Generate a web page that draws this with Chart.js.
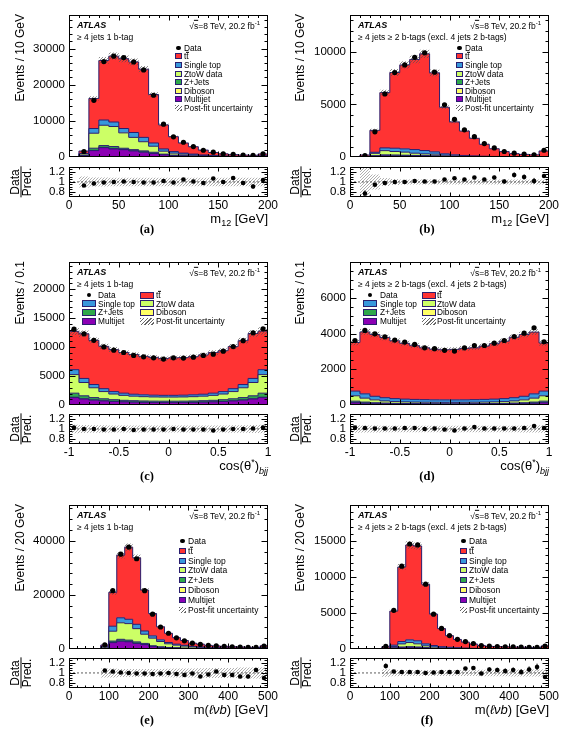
<!DOCTYPE html>
<html><head><meta charset="utf-8">
<script src="https://cdn.jsdelivr.net/npm/chart.js@4/dist/chart.umd.min.js"></script>
<style>
body{margin:0;background:#fff;width:567px;height:737px;position:relative;overflow:hidden;font-family:"Liberation Sans",Arial,Helvetica,sans-serif;}
canvas{position:absolute;}
.t{position:absolute;white-space:nowrap;color:#000;line-height:1;}
.box{position:absolute;box-sizing:border-box;}
.tb{display:inline-block;border-top:1px solid #000;line-height:0.85;}
</style></head><body>
<script>
// ---------------- DATA ----------------
// (a) m12, >=4 jets 1 b-tag
const A_edges = [0,10,20,30,40,50,60,70,80,90,100,110,120,130,140,150,160,170,180,190,200];
const A_data = [null,1550,15700,26400,27900,27500,26300,24100,17100,9100,5600,4100,2900,1900,1360,900,730,550,450,900];
const A_ttbar = [0,670,8300,16450,18200,19300,19500,18850,13400,6640,4120,2795,2035,1345,847,584,430,369,342,497];
const A_singleTop = [0,150,1300,1450,1250,1200,1350,1200,900,630,440,300,230,170,120,90,70,55,45,100];
const A_ztow = [0,450,4140,5620,5540,4250,3390,2530,1660,810,550,400,300,200,140,100,80,60,50,120];
const A_zjets = [0,80,600,500,580,330,300,320,320,160,80,60,45,35,25,20,15,12,10,25];
const A_diboson = [0,20,60,80,80,70,60,50,40,30,20,15,10,10,8,6,5,4,3,8];
const A_multijet = [0,300,1800,2600,2250,2050,1700,1350,980,630,440,330,250,180,130,100,80,60,50,120];
const A_mainUnc = [0,0.06,0.04,0.035,0.035,0.035,0.035,0.035,0.035,0.04,0.04,0.04,0.04,0.045,0.045,0.05,0.05,0.05,0.05,0.05];
const A_ratio = [null,0.93,0.97,0.99,1.0,1.01,1.0,0.99,0.99,1.02,0.99,1.05,1.01,0.98,1.07,1.0,1.08,0.98,0.91,1.04];
const A_ratioErr = [null,0.02,0.01,0.01,0.01,0.01,0.01,0.01,0.01,0.01,0.015,0.015,0.02,0.02,0.025,0.03,0.035,0.04,0.045,0.03];
const A_ratioUnc = [null,0.11,0.09,0.09,0.085,0.085,0.085,0.085,0.085,0.085,0.085,0.085,0.085,0.085,0.085,0.085,0.085,0.085,0.085,0.085];
const A_xTicks = [0,50,100,150,200];
const A_yTicks = [0,10000,20000,30000];

// (b) m12, >=4 jets >=2 b-tags
const B_edges = [0,10,20,30,40,50,60,70,80,90,100,110,120,130,140,150,160,170,180,190,200];
const B_data = [null,150,2400,6000,8030,8750,9470,9900,8060,4970,3590,2590,1940,1280,875,530,375,280,220,650];
const B_ttbar = [0,150,2080,5250,7190,7970,8555,9180,7500,4420,3130,2320,1670,1130,735,480,295,230,195,525];
const B_singleTop = [0,8,100,260,310,310,345,320,220,130,90,65,45,35,25,18,14,11,9,25];
const B_ztow = [0,15,230,400,330,290,210,160,150,90,60,45,35,25,18,12,9,7,6,14];
const B_zjets = [0,5,40,80,80,70,60,55,50,35,25,18,13,9,6,4,3,2,2,5];
const B_diboson = [0,2,8,12,12,11,10,9,8,6,4,3,2,2,1,1,1,1,1,2];
const B_multijet = [0,20,80,120,110,100,90,80,70,50,35,25,20,15,10,8,6,5,4,10];
const B_mainUnc = [0,0.3,0.06,0.045,0.04,0.04,0.04,0.04,0.04,0.04,0.04,0.04,0.04,0.045,0.045,0.05,0.05,0.05,0.05,0.05];
const B_ratio = [null,0.77,0.944,0.98,1.0,1.0,1.02,1.01,1.01,1.05,1.075,1.05,1.09,1.05,1.09,1.01,1.14,1.1,1.02,1.12];
const B_ratioErr = [null,0.06,0.02,0.012,0.01,0.01,0.01,0.01,0.01,0.015,0.018,0.02,0.025,0.03,0.035,0.04,0.05,0.05,0.06,0.04];
const B_ratioUnc = [null,0.5,0.15,0.08,0.06,0.05,0.05,0.05,0.05,0.05,0.05,0.05,0.05,0.05,0.05,0.05,0.05,0.05,0.05,0.05];
const B_xTicks = [0,50,100,150,200];
const B_yTicks = [0,5000,10000];

// (c) cos(theta*)_bjj, >=4 jets 1 b-tag
const C_edges = [-1,-0.9,-0.8,-0.7,-0.6,-0.5,-0.4,-0.3,-0.2,-0.1,0,0.1,0.2,0.3,0.4,0.5,0.6,0.7,0.8,0.9,1];
const C_data = [13100,12300,11170,10030,9470,9070,8560,8330,8160,7940,8160,8110,8270,8560,8790,9300,10090,11110,12470,13150];
const C_ttbar = [6610,7700,7620,7295,7240,7010,6855,6635,6525,6335,6475,6475,6575,6775,7000,7060,7255,7560,7750,6660];
const C_singleTop = [850,700,560,500,420,380,340,320,310,300,300,310,320,340,380,420,500,560,700,850];
const C_ztow = [3200,2300,1700,1250,980,850,780,740,720,710,710,720,740,780,850,980,1250,1700,2300,3200];
const C_zjets = [700,500,400,330,280,250,230,220,210,210,210,210,220,230,250,280,330,400,500,700];
const C_diboson = [60,50,40,35,30,28,26,25,24,24,24,24,25,26,28,30,35,40,50,60];
const C_multijet = [1300,1050,850,720,620,550,500,470,450,440,440,450,470,500,550,620,720,850,1050,1300];
const C_mainUnc = [0.05,0.045,0.045,0.045,0.045,0.045,0.045,0.045,0.045,0.045,0.045,0.045,0.045,0.045,0.045,0.045,0.045,0.045,0.045,0.05];
const C_ratio = [1.03,1.0,1.0,0.99,0.99,1.0,0.98,0.99,0.99,0.99,1.0,0.99,0.99,0.99,0.97,0.99,1.0,1.0,1.01,1.03];
const C_ratioErr = [0.012,0.012,0.012,0.012,0.012,0.012,0.012,0.012,0.012,0.012,0.012,0.012,0.012,0.012,0.012,0.012,0.012,0.012,0.012,0.012];
const C_ratioUnc = [0.085,0.08,0.075,0.075,0.07,0.07,0.07,0.07,0.07,0.07,0.07,0.07,0.07,0.07,0.07,0.07,0.075,0.075,0.08,0.085];
const C_xTicks = [-1,-0.5,0,0.5,1];
const C_yTicks = [0,5000,10000,15000,20000];

// (d) cos(theta*)_bjj, >=4 jets >=2 b-tags
const D_edges = [-1,-0.9,-0.8,-0.7,-0.6,-0.5,-0.4,-0.3,-0.2,-0.1,0,0.1,0.2,0.3,0.4,0.5,0.6,0.7,0.8,0.9,1];
const D_data = [3610,4170,3980,3815,3630,3520,3390,3200,3150,3060,3020,3200,3330,3330,3460,3610,3830,4020,4320,3540];
const D_ttbar = [2720,3460,3450,3365,3230,3115,3000,2895,2825,2800,2820,2875,2895,2980,3095,3210,3375,3450,3450,2690];
const D_singleTop = [260,240,200,180,165,155,150,145,140,140,140,140,145,150,155,165,180,200,240,260];
const D_ztow = [300,220,160,120,100,90,85,80,78,76,76,78,80,85,90,100,120,160,220,300];
const D_zjets = [80,60,45,38,32,30,28,27,26,26,26,26,27,28,30,32,38,45,60,80];
const D_diboson = [10,8,7,6,5,5,5,5,5,5,5,5,5,5,5,5,6,7,8,10];
const D_multijet = [130,100,80,70,60,55,50,48,46,45,45,46,48,50,55,60,70,80,100,130];
const D_mainUnc = [0.045,0.04,0.04,0.04,0.04,0.04,0.04,0.04,0.04,0.04,0.04,0.04,0.04,0.04,0.04,0.04,0.04,0.04,0.04,0.045];
const D_ratio = [1.03,1.02,1.01,1.01,1.01,1.02,1.02,1.0,1.01,0.99,0.97,1.01,1.04,1.01,1.01,1.01,1.01,1.02,1.06,1.02];
const D_ratioErr = [0.018,0.017,0.017,0.017,0.018,0.018,0.018,0.018,0.018,0.018,0.018,0.018,0.018,0.018,0.018,0.018,0.017,0.017,0.017,0.018];
const D_ratioUnc = [0.075,0.07,0.07,0.065,0.065,0.065,0.065,0.065,0.065,0.065,0.065,0.065,0.065,0.065,0.065,0.065,0.065,0.07,0.07,0.075];
const D_xTicks = [-1,-0.5,0,0.5,1];
const D_yTicks = [0,2000,4000,6000];

// (e) m(lvb), >=4 jets 1 b-tag
const E_edges = [0,20,40,60,80,100,120,140,160,180,200,220,240,260,280,300,320,340,360,380,400,420,440,460,480,500];
const E_data = [null,null,null,null,1590,21600,35100,37700,33400,21600,12900,8170,5850,4150,3050,2200,1710,1340,1220,980,850,730,610,620,1100];
const E_ttbar = [0,0,0,0,465,12510,23180,26680,24580,15120,8270,4840,3405,2400,1780,1218,1025,757,650,572,497,446,371,333,672];
const E_singleTop = [0,0,0,0,150,1850,1850,1600,1600,1200,850,610,490,370,290,220,180,140,120,100,85,75,65,55,120];
const E_ztow = [0,0,0,0,500,3650,6100,6100,4900,3400,2800,1950,1350,1000,750,520,420,320,270,230,200,175,145,130,280];
const E_zjets = [0,0,0,0,80,500,650,550,500,400,300,220,160,120,95,70,55,45,38,32,28,24,20,18,40];
const E_diboson = [0,0,0,0,15,60,70,70,60,50,40,30,25,20,15,12,10,8,7,6,5,5,4,4,8];
const E_multijet = [0,0,0,0,300,2400,2900,2700,2100,1650,900,600,420,320,250,180,150,110,95,80,70,60,50,45,100];
const E_mainUnc = [0,0,0,0,0.06,0.04,0.035,0.035,0.035,0.035,0.04,0.04,0.04,0.045,0.045,0.05,0.05,0.05,0.05,0.05,0.05,0.055,0.055,0.055,0.055];
const E_ratio = [null,null,null,null,1.05,1.03,1.01,1.0,0.99,0.99,0.98,0.99,1.0,0.98,0.96,0.99,0.93,0.97,1.03,0.96,0.96,0.93,0.93,1.06,0.9];
const E_ratioErr = [null,null,null,null,0.02,0.01,0.01,0.01,0.01,0.01,0.01,0.012,0.015,0.017,0.02,0.022,0.025,0.028,0.03,0.032,0.035,0.038,0.04,0.042,0.035];
const E_ratioUnc = [null,null,null,null,0.09,0.09,0.08,0.08,0.08,0.08,0.08,0.08,0.085,0.09,0.09,0.09,0.095,0.1,0.1,0.1,0.1,0.11,0.11,0.11,0.11];
const E_xTicks = [0,100,200,300,400,500];
const E_yTicks = [0,20000,40000];

// (f) m(lvb), >=4 jets >=2 b-tags
const F_edges = [0,20,40,60,80,100,120,140,160,180,200,220,240,260,280,300,320,340,360,380,400,420,440,460,480,500];
const F_data = [null,null,null,null,370,5380,11500,14580,14450,9000,4850,2870,1880,1350,1040,780,500,400,360,320,300,270,250,240,400];
const F_ttbar = [0,0,0,0,208,4722,10338,13158,13148,8272,4354,2503,1607,1147,824,602,420,313,287,264,245,226,200,183,373];
const F_singleTop = [0,0,0,0,30,180,330,370,420,270,200,140,110,85,65,50,38,30,26,23,20,18,16,14,30];
const F_ztow = [0,0,0,0,40,190,430,580,440,260,170,110,80,60,45,35,26,20,17,15,13,11,10,9,20];
const F_zjets = [0,0,0,0,10,50,80,90,80,60,40,28,20,15,12,9,7,6,5,4,4,3,3,3,6];
const F_diboson = [0,0,0,0,2,8,12,12,12,8,6,4,3,3,2,2,1,1,1,1,1,1,1,1,1];
const F_multijet = [0,0,0,0,40,120,200,230,200,130,80,55,40,30,22,17,13,10,9,8,7,6,5,5,10];
const F_mainUnc = [0,0,0,0,0.06,0.04,0.035,0.035,0.035,0.035,0.035,0.04,0.04,0.04,0.045,0.045,0.05,0.05,0.05,0.05,0.05,0.05,0.05,0.05,0.05];
const F_ratio = [null,null,null,null,1.14,1.03,1.02,1.02,1.02,1.0,1.01,1.02,1.02,1.02,1.09,1.1,0.99,1.07,1.06,1.04,1.06,1.02,1.07,1.12,0.92];
const F_ratioErr = [null,null,null,null,0.05,0.012,0.01,0.01,0.01,0.01,0.012,0.015,0.02,0.022,0.025,0.03,0.035,0.04,0.045,0.05,0.05,0.055,0.06,0.065,0.04];
const F_ratioUnc = [null,null,null,null,0.075,0.065,0.06,0.06,0.06,0.06,0.06,0.06,0.06,0.06,0.06,0.06,0.065,0.065,0.065,0.065,0.07,0.07,0.07,0.07,0.07];
const F_xTicks = [0,100,200,300,400,500];
const F_yTicks = [0,5000,10000,15000];

const RATIO_TICKS = [0.8,1,1.2];
const SAMPLE_LABELS = ['Multijet','Diboson','Z+Jets','ZtoW data','Single top','t<span class="tb">t</span>'];

// ---------------- STYLE ----------------
const FONT = '"Liberation Sans", Arial, Helvetica, sans-serif';
const OUTLINE = '#2a1e6e';
const COLORS = ['#8c00b4','#ffff66','#2fa84a','#ccff66','#3898dc','#ff3333'];
Chart.defaults.font.family = FONT;
Chart.defaults.color = '#000';

function hatchPattern(color){
  const c = document.createElement('canvas'); c.width = 3; c.height = 3;
  const g = c.getContext('2d'); g.strokeStyle = color; g.lineWidth = 0.8;
  g.beginPath(); g.moveTo(0,3); g.lineTo(3,0); g.moveTo(-1,1); g.lineTo(1,-1); g.moveTo(2,4); g.lineTo(4,2); g.stroke();
  return g.createPattern(c,'repeat');
}
const HATCH_MAIN = hatchPattern('rgba(80,80,80,0.8)');
const HATCH_RATIO = hatchPattern('rgba(120,120,120,0.75)');

function minorList(min,max,step){
  const out=[]; const s=Math.ceil(min/step-1e-9);
  for(let k=s;k*step<=max+1e-9;k++) out.push(+(k*step).toFixed(6));
  return out;
}
const framePlugin = {
  id:'frameTicks',
  afterDraw(chart,args,o){
    const {ctx, chartArea:a} = chart; const xs=chart.scales.x, ys=chart.scales.y;
    ctx.save(); ctx.strokeStyle='#000'; ctx.lineWidth=1;
    const L=Math.round(a.left)+0.5, R=Math.round(a.right)-0.5, T=Math.round(a.top)+0.5, B=Math.round(a.bottom)-0.5;
    if (o.err){
      ctx.beginPath();
      o.err.forEach(e=>{ const px=xs.getPixelForValue(e.x); ctx.moveTo(px, ys.getPixelForValue(e.y-e.e)); ctx.lineTo(px, ys.getPixelForValue(e.y+e.e)); });
      ctx.stroke();
    }
    ctx.beginPath();
    const xv=(v,len)=>{const px=Math.round(xs.getPixelForValue(v))+0.5; if(px<L-0.1||px>R+0.6)return; ctx.moveTo(px,B);ctx.lineTo(px,B-len);ctx.moveTo(px,T);ctx.lineTo(px,T+len);};
    const yv=(v,len)=>{const py=Math.round(ys.getPixelForValue(v))+0.5; if(py<T-0.6||py>B+0.6)return; ctx.moveTo(L,py);ctx.lineTo(L+len,py);ctx.moveTo(R,py);ctx.lineTo(R-len,py);};
    minorList(xs.min,xs.max,o.xMinor).forEach(v=>xv(v,o.xMinLen));
    o.xMajor.forEach(v=>xv(v,o.xMajLen));
    minorList(ys.min,ys.max,o.yMinor).forEach(v=>yv(v,o.yMinLen));
    o.yMajor.forEach(v=>yv(v,o.yMajLen));
    ctx.stroke();
    ctx.strokeRect(L,T,R-L,B-T);
    ctx.restore();
  }
};

function mkCanvas(left,top,w,h){
  const c=document.createElement('canvas'); c.width=w; c.height=h;
  c.style.left=left+'px'; c.style.top=top+'px'; c.style.width=w+'px'; c.style.height=h+'px';
  document.body.appendChild(c); return c;
}
function stepPts(edges,vals){
  const pts=vals.map((v,i)=>({x:edges[i],y:v}));
  pts.push({x:edges[vals.length],y:vals[vals.length-1]});
  return pts;
}
function fmt(v){ return String(+v.toFixed(3)); }

function mainChart(p){
  const g=p.g; const W=g.R-g.x0+14, H=g.B-g.T+20;
  const c=mkCanvas(g.x0,g.T-10,W,H);
  const comps=[p.multijet,p.diboson,p.zjets,p.ztow,p.singleTop,p.ttbar];
  let run=comps[0].map(()=>0); const cum=[];
  comps.forEach(arr=>{ run=run.map((v,i)=>v+arr[i]); cum.push(run); });
  const total=cum[cum.length-1];
  const ds=cum.map((arr,k)=>({data:stepPts(p.edges,arr),stepped:true,borderColor:OUTLINE,borderWidth:1,backgroundColor:COLORS[k],fill:k===0?'origin':'-1',pointRadius:0,order:10+k}));
  ds.push({data:stepPts(p.edges,total.map((t,i)=>t*(1+p.mainUnc[i]))),stepped:true,borderWidth:0,borderColor:'rgba(0,0,0,0)',pointRadius:0,fill:false,order:2});
  ds.push({data:stepPts(p.edges,total.map((t,i)=>t*(1-p.mainUnc[i]))),stepped:true,borderWidth:0,borderColor:'rgba(0,0,0,0)',pointRadius:0,fill:'-1',backgroundColor:HATCH_MAIN,order:1});
  const pts=[]; p.data.forEach((v,i)=>{ if(v!==null) pts.push({x:(p.edges[i]+p.edges[i+1])/2,y:v}); });
  ds.push({data:pts,showLine:false,pointRadius:2.6,pointBackgroundColor:'#000',pointBorderColor:'#000',pointBorderWidth:0,borderColor:'#000',order:0});
  new Chart(c,{type:'line',data:{datasets:ds},plugins:[framePlugin],options:{
    responsive:false,animation:false,devicePixelRatio:1,events:[],
    layout:{padding:{left:0,right:14,top:10,bottom:10}},
    plugins:{legend:{display:false},tooltip:{enabled:false},
      frameTicks:{xMajor:p.xTicks,xMinor:p.xMinor,yMajor:p.yTicks,yMinor:p.yMinor,xMajLen:5,xMinLen:2.5,yMajLen:6,yMinLen:3}},
    scales:{
      x:{type:'linear',min:p.edges[0],max:p.edges[p.edges.length-1],display:false},
      y:{type:'linear',min:0,max:p.yMax,
        afterBuildTicks:s=>{s.ticks=p.yTicks.map(v=>({value:v}));},
        afterFit:s=>{s.width=g.L-g.x0;},
        ticks:{callback:v=>fmt(v),font:{size:11.5,family:FONT},color:'#000',padding:4,autoSkip:false},
        grid:{display:false,drawTicks:false},border:{display:false}}
    }}});
}

function ratioChart(p){
  const g=p.g; const W=g.R-g.x0+14, H=g.rB-g.rT+10+18;
  const c=mkCanvas(g.x0,g.rT-10,W,H);
  let first=p.ratioUnc.findIndex(v=>v!==null), last=p.ratioUnc.length-1;
  const ue=p.edges.slice(first,last+2), uv=p.ratioUnc.slice(first,last+1);
  const x0=p.edges[0], x1=p.edges[p.edges.length-1];
  const pts=[], errs=[];
  p.ratio.forEach((v,i)=>{ if(v!==null){ const cx=(p.edges[i]+p.edges[i+1])/2; pts.push({x:cx,y:v}); errs.push({x:cx,y:v,e:p.ratioErr[i]}); } });
  const ds=[
    {data:stepPts(ue,uv.map(u=>1+u)),stepped:true,borderWidth:0,borderColor:'rgba(0,0,0,0)',pointRadius:0,fill:false,order:3},
    {data:stepPts(ue,uv.map(u=>1-u)),stepped:true,borderWidth:0,borderColor:'rgba(0,0,0,0)',pointRadius:0,fill:'-1',backgroundColor:HATCH_RATIO,order:2},
    {data:[{x:x0,y:1},{x:x1,y:1}],borderColor:'#333',borderWidth:0.8,borderDash:[2,2],pointRadius:0,fill:false,order:1},
    {data:pts,showLine:false,pointRadius:2.3,pointBackgroundColor:'#000',pointBorderColor:'#000',pointBorderWidth:0,borderColor:'#000',order:0}
  ];
  new Chart(c,{type:'line',data:{datasets:ds},plugins:[framePlugin],options:{
    responsive:false,animation:false,devicePixelRatio:1,events:[],
    layout:{padding:{left:0,right:14,top:10,bottom:0}},
    plugins:{legend:{display:false},tooltip:{enabled:false},
      frameTicks:{xMajor:p.xTicks,xMinor:p.xMinor,yMajor:RATIO_TICKS,yMinor:0.05,xMajLen:4,xMinLen:2,yMajLen:6,yMinLen:3,err:errs}},
    scales:{
      x:{type:'linear',min:x0,max:x1,
        afterBuildTicks:s=>{s.ticks=p.xTicks.map(v=>({value:v}));},
        afterFit:s=>{s.height=18;},
        ticks:{callback:v=>fmt(v),font:{size:12,family:FONT},color:'#000',padding:1,maxRotation:0,autoSkip:false},
        grid:{display:false,drawTicks:false},border:{display:false}},
      y:{type:'linear',min:0.7,max:1.3,
        afterBuildTicks:s=>{s.ticks=RATIO_TICKS.map(v=>({value:v}));},
        afterFit:s=>{s.width=g.L-g.x0;},
        ticks:{callback:v=>fmt(v),font:{size:11.5,family:FONT},color:'#000',padding:4,autoSkip:false},
        grid:{display:false,drawTicks:false},border:{display:false}}
    }}});
}

// ---------------- TEXT HELPERS ----------------
function addText(html,x,y,o){
  o=o||{}; const d=document.createElement('div'); d.className='t'; d.innerHTML=html;
  d.style.left=x+'px'; d.style.top=y+'px'; d.style.fontSize=(o.size||12)+'px';
  if(o.bold) d.style.fontWeight='bold'; if(o.italic) d.style.fontStyle='italic';
  if(o.family) d.style.fontFamily=o.family;
  const tx=o.align==='right'?'-100%':o.align==='center'?'-50%':'0';
  d.style.transform=`translate(${tx},-50%)`;
  document.body.appendChild(d); return d;
}
function addBox(x,y,w,h,css){
  const d=document.createElement('div'); d.className='box';
  d.style.left=x+'px'; d.style.top=y+'px'; d.style.width=w+'px'; d.style.height=h+'px';
  d.style.cssText+=css; document.body.appendChild(d); return d;
}
function legendItem(kind,k,label,bx,tx,y,bw,bh,size){
  if(kind==='dot'){ addBox(bx+bw/2-2.2,y-2.2,4.4,4.4,'background:#000;border-radius:50%;'); }
  else if(kind==='hatch'){ addBox(bx,y-bh/2,bw,bh,'background:repeating-linear-gradient(135deg,#666 0 1px,transparent 1px 2.5px);'); }
  else { addBox(bx,y-bh/2,bw,bh,`background:${COLORS[k]};border:1px solid ${OUTLINE};`); }
  addText(label,tx,y,{size:size});
}

function decorate(p){
  const g=p.g;
  const yt=document.createElement('div'); yt.className='t'; yt.textContent=p.yTitle;
  yt.style.cssText+=`left:${g.x0+13}px;top:${g.T}px;font-size:12px;line-height:14px;writing-mode:vertical-rl;transform:rotate(180deg);`;
  document.body.appendChild(yt);
  const rt=document.createElement('div'); rt.className='t';
  rt.innerHTML='<div style="line-height:9px;padding:0 1px 1px">Data</div><div style="line-height:9px;border-top:1px solid #000;padding:1px 1px 0">Pred.</div>';
  rt.style.cssText+=`left:${g.x0+21}px;top:${(g.rT+g.rB)/2}px;font-size:12px;text-align:center;transform:translate(-50%,-50%) rotate(-90deg);`;
  document.body.appendChild(rt);
  addText(p.xTitle,g.R,g.rB+21,{size:13,align:'right'});
  addText(p.letter,g.x0+147,g.rB+32,{size:12.5,bold:true,align:'center',family:'"Liberation Serif","Times New Roman",serif'});
  addText('ATLAS',g.L+8,g.T+11,{size:9,bold:true,italic:true});
  addText('√<span style="text-decoration:overline">s</span>=8 TeV, 20.2 fb<sup style="font-size:6px">-1</sup>',g.R-8,g.T+11,{size:8.5,align:'right'});
  addText(p.sel,g.L+8,g.T+23,{size:8.5});
  const lg=p.legend;
  if(lg.cols===1){
    const order=[['dot',-1,'Data'],['box',5],['box',4],['box',3],['box',2],['box',1],['box',0],['hatch',-1,'Post-fit uncertainty']];
    order.forEach((it,i)=>legendItem(it[0],it[1],it[2]||SAMPLE_LABELS[it[1]],lg.bx,lg.tx,lg.y0+i*lg.dy,lg.bw,lg.bh,lg.size));
  } else {
    const c1=[['dot',-1,'Data'],['box',4],['box',2],['box',0]];
    const c2=[['box',5],['box',3],['box',1],['hatch',-1,'Post-fit uncertainty']];
    c1.forEach((it,i)=>legendItem(it[0],it[1],it[2]||SAMPLE_LABELS[it[1]],lg.bx,lg.tx,lg.y0+i*lg.dy,lg.bw,lg.bh,lg.size));
    c2.forEach((it,i)=>legendItem(it[0],it[1],it[2]||SAMPLE_LABELS[it[1]],lg.bx2,lg.tx2,lg.y0+i*lg.dy,lg.bw,lg.bh,lg.size));
  }
}

// ---------------- PANELS ----------------
const SEL1='≥ 4 jets 1 b-tag', SEL2='≥ 4 jets ≥ 2 b-tags (excl. 4 jets 2 b-tags)';
const XT_M12='m<span style="font-size:9px;position:relative;top:3px">12</span> [GeV]';
const XT_COS='cos(θ<sup style="font-size:9px">*</sup>)<span style="font-size:9px;position:relative;top:4px;font-style:italic">bjj</span>';
const XT_MLVB='m(<i>ℓνb</i>) [GeV]';
const panels=[
 {letter:'(a)',g:{x0:0,L:69,R:268,T:14,B:158,rT:166,rB:197},edges:A_edges,data:A_data,ttbar:A_ttbar,singleTop:A_singleTop,ztow:A_ztow,zjets:A_zjets,diboson:A_diboson,multijet:A_multijet,mainUnc:A_mainUnc,ratio:A_ratio,ratioErr:A_ratioErr,ratioUnc:A_ratioUnc,xTicks:A_xTicks,yTicks:A_yTicks,xMinor:10,yMinor:2000,yMax:39300,yTitle:'Events / 10 GeV',xTitle:XT_M12,sel:SEL1,
  legend:{cols:1,bx:175,tx:184,y0:47.7,dy:8.6,bw:7,bh:6,size:8.3}},
 {letter:'(b)',g:{x0:280,L:350,R:549,T:14,B:158,rT:166,rB:197},edges:B_edges,data:B_data,ttbar:B_ttbar,singleTop:B_singleTop,ztow:B_ztow,zjets:B_zjets,diboson:B_diboson,multijet:B_multijet,mainUnc:B_mainUnc,ratio:B_ratio,ratioErr:B_ratioErr,ratioUnc:B_ratioUnc,xTicks:B_xTicks,yTicks:B_yTicks,xMinor:10,yMinor:1000,yMax:13500,yTitle:'Events / 10 GeV',xTitle:XT_M12,sel:SEL2,
  legend:{cols:1,bx:456,tx:465,y0:47.7,dy:8.6,bw:7,bh:6,size:8.3}},
 {letter:'(c)',g:{x0:0,L:69,R:268,T:261,B:406,rT:413,rB:444},edges:C_edges,data:C_data,ttbar:C_ttbar,singleTop:C_singleTop,ztow:C_ztow,zjets:C_zjets,diboson:C_diboson,multijet:C_multijet,mainUnc:C_mainUnc,ratio:C_ratio,ratioErr:C_ratioErr,ratioUnc:C_ratioUnc,xTicks:C_xTicks,yTicks:C_yTicks,xMinor:0.1,yMinor:1000,yMax:24700,yTitle:'Events / 0.1',xTitle:XT_COS,sel:SEL1,
  legend:{cols:2,bx:82,tx:98,bx2:140,tx2:156,y0:295,dy:8.7,bw:14,bh:7,size:8.3}},
 {letter:'(d)',g:{x0:280,L:350,R:549,T:261,B:406,rT:413,rB:444},edges:D_edges,data:D_data,ttbar:D_ttbar,singleTop:D_singleTop,ztow:D_ztow,zjets:D_zjets,diboson:D_diboson,multijet:D_multijet,mainUnc:D_mainUnc,ratio:D_ratio,ratioErr:D_ratioErr,ratioUnc:D_ratioUnc,xTicks:D_xTicks,yTicks:D_yTicks,xMinor:0.1,yMinor:500,yMax:8000,yTitle:'Events / 0.1',xTitle:XT_COS,sel:SEL2,
  legend:{cols:2,bx:363,tx:380,bx2:422,tx2:437,y0:295,dy:8.7,bw:14,bh:7,size:8.3}},
 {letter:'(e)',g:{x0:0,L:69,R:268,T:504,B:650,rT:657,rB:688},edges:E_edges,data:E_data,ttbar:E_ttbar,singleTop:E_singleTop,ztow:E_ztow,zjets:E_zjets,diboson:E_diboson,multijet:E_multijet,mainUnc:E_mainUnc,ratio:E_ratio,ratioErr:E_ratioErr,ratioUnc:E_ratioUnc,xTicks:E_xTicks,yTicks:E_yTicks,xMinor:20,yMinor:4000,yMax:53300,yTitle:'Events / 20 GeV',xTitle:XT_MLVB,sel:SEL1,
  legend:{cols:1,bx:179,tx:188,y0:540.7,dy:9.9,bw:7,bh:6,size:8.5}},
 {letter:'(f)',g:{x0:280,L:350,R:549,T:504,B:650,rT:657,rB:688},edges:F_edges,data:F_data,ttbar:F_ttbar,singleTop:F_singleTop,ztow:F_ztow,zjets:F_zjets,diboson:F_diboson,multijet:F_multijet,mainUnc:F_mainUnc,ratio:F_ratio,ratioErr:F_ratioErr,ratioUnc:F_ratioUnc,xTicks:F_xTicks,yTicks:F_yTicks,xMinor:20,yMinor:1000,yMax:20000,yTitle:'Events / 20 GeV',xTitle:XT_MLVB,sel:SEL2,
  legend:{cols:1,bx:460,tx:469,y0:540.7,dy:9.9,bw:7,bh:6,size:8.5}}
];
panels.forEach(p=>{ mainChart(p); ratioChart(p); });
panels.forEach(p=>decorate(p));
</script>
</body></html>
